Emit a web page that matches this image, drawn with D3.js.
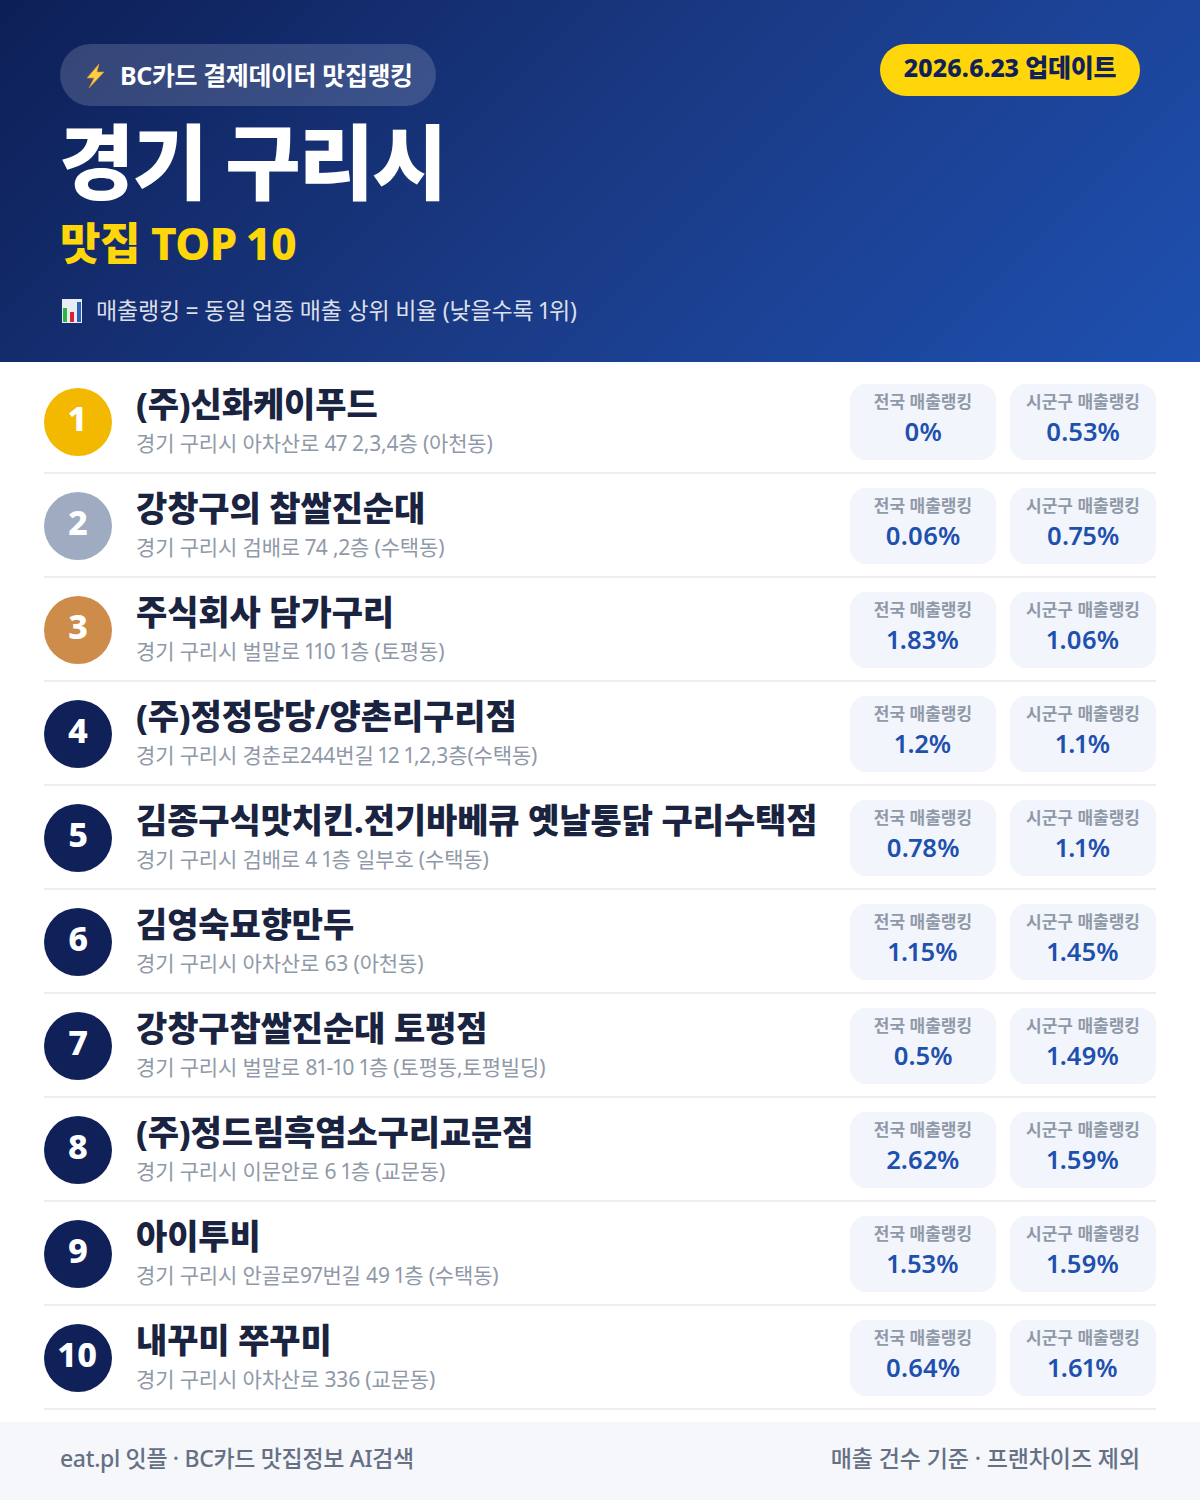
<!DOCTYPE html>
<html lang="ko">
<head>
<meta charset="utf-8">
<script src="https://cdn.jsdelivr.net/npm/d3@7"></script>
<style>
    html, body { margin: 0; padding: 0; background: #fff; }
    svg { display: block; }
    text { font-family: "Noto Sans", "Noto Sans CJK KR", sans-serif; font-variant-numeric: proportional-nums; }
</style>
</head>
<body>
<svg id="chart" width="1200" height="1500"></svg>
<script>
    const names = ['(주)신화케이푸드', '강창구의 찹쌀진순대', '주식회사 담가구리', '(주)정정당당/양촌리구리점',
        '김종구식맛치킨.전기바베큐 옛날통닭 구리수택점', '김영숙묘향만두', '강창구찹쌀진순대 토평점',
        '(주)정드림흑염소구리교문점', '아이투비', '내꾸미 쭈꾸미'];
    const addresses = ['경기 구리시 아차산로 47 2,3,4층 (아천동)', '경기 구리시 검배로 74 ,2층 (수택동)',
        '경기 구리시 벌말로 110 1층 (토평동)', '경기 구리시 경춘로244번길 12 1,2,3층(수택동)',
        '경기 구리시 검배로 4 1층 일부호 (수택동)', '경기 구리시 아차산로 63 (아천동)',
        '경기 구리시 벌말로 81-10 1층 (토평동,토평빌딩)', '경기 구리시 이문안로 6 1층 (교문동)',
        '경기 구리시 안골로97번길 49 1층 (수택동)', '경기 구리시 아차산로 336 (교문동)'];
    const nationalRank = ['0%', '0.06%', '1.83%', '1.2%', '0.78%', '1.15%', '0.5%', '2.62%', '1.53%', '0.64%'];
    const districtRank = ['0.53%', '0.75%', '1.06%', '1.1%', '1.1%', '1.45%', '1.49%', '1.59%', '1.59%', '1.61%'];
    const ranks = d3.range(1, 11);
    const rankColors = ['#f2b900', '#9eabc0', '#cd8c4a'];
    const otherRank = '#10215a';

    const sv = d3.select('#chart');

    const defs = sv.append('defs');
    const gr_he = defs.append('linearGradient')
        .attr('id', 'headBg')
        .attr('gradientUnits', 'userSpaceOnUse')
        .attr('x1', 209.5).attr('y1', -209.5)
        .attr('x2', 990.5).attr('y2', 571.5);
    gr_he.append('stop').attr('offset', '0%').attr('stop-color', '#0d1f56');
    gr_he.append('stop').attr('offset', '50%').attr('stop-color', '#1a3a85');
    gr_he.append('stop').attr('offset', '100%').attr('stop-color', '#1e50b0');

    // header
    sv.append('rect').attr('width', 1200).attr('height', 362).attr('fill', 'url(#headBg)');

    sv.append('rect')
        .attr('x', 60).attr('y', 44)
        .attr('width', 376).attr('height', 62)
        .attr('rx', 31)
        .attr('fill', '#fff').attr('fill-opacity', 0.16);

    // lightning icon
    sv.append('path')
        .attr('d', 'M99 64 L87 78 L94 78 L89 88 L104 72 L97 72 Z')
        .attr('fill', '#fbcf4a')
        .attr('stroke', '#e08a1e').attr('stroke-width', 0.7);

    sv.append('text').attr('x', 120).attr('y', 85)
        .attr('fill', '#fff').attr('font-size', 25).attr('font-weight', 700)
        .attr('letter-spacing', -0.4)
        .text('BC카드 결제데이터 맛집랭킹');

    sv.append('text').attr('x', 59).attr('y', 193)
        .attr('fill', '#fff').attr('font-size', 82).attr('font-weight', 900)
        .attr('letter-spacing', -2)
        .text('경기 구리시');

    sv.append('text').attr('x', 60).attr('y', 260)
        .attr('fill', '#ffd60a').attr('font-size', 44).attr('font-weight', 800)
        .attr('letter-spacing', -0.5)
        .text('맛집 TOP 10');

    // chart icon
    const ic = sv.append('g').attr('transform', 'translate(62,299)');
    ic.append('rect').attr('width', 20).attr('height', 24).attr('fill', '#e8edf3');
    ic.append('rect').attr('x', 1).attr('y', 9).attr('width', 4).attr('height', 14).attr('fill', '#2fb344');
    ic.append('rect').attr('x', 8).attr('y', 13).attr('width', 4).attr('height', 10).attr('fill', '#d6252c');
    ic.append('rect').attr('x', 15).attr('y', 3).attr('width', 4).attr('height', 20).attr('fill', '#2f62b4');

    sv.append('text').attr('x', 96).attr('y', 319)
        .attr('fill', '#fff').attr('fill-opacity', 0.85)
        .attr('font-size', 23).attr('font-weight', 400)
        .attr('letter-spacing', -0.2)
        .text('매출랭킹 = 동일 업종 매출 상위 비율 (낮을수록 1위)');

    // update badge
    sv.append('rect')
        .attr('x', 880).attr('y', 44)
        .attr('width', 260).attr('height', 52)
        .attr('rx', 26)
        .attr('fill', '#ffd60a');
    sv.append('text').attr('x', 1010).attr('y', 77)
        .attr('text-anchor', 'middle')
        .attr('fill', '#10215a').attr('font-size', 25).attr('font-weight', 800)
        .attr('letter-spacing', -0.2)
        .text('2026.6.23 업데이트');

    // rows
    const y_sc = d3.scaleBand().domain(ranks).range([370, 1410]);

    const ro = sv.selectAll('.row')
        .data(ranks)
        .enter()
        .append('g')
        .attr('class', 'row')
        .attr('transform', d => `translate(0,${y_sc(d)})`);

    ro.append('line')
        .attr('x1', 44).attr('x2', 1156)
        .attr('y1', 103).attr('y2', 103)
        .attr('stroke', '#eceef2').attr('stroke-width', 2);

    ro.append('circle')
        .attr('cx', 78).attr('cy', 52).attr('r', 34)
        .attr('fill', d => rankColors[d - 1] || otherRank);

    ro.append('text')
        .attr('x', 78).attr('y', 61)
        .attr('text-anchor', 'middle')
        .attr('fill', '#fff').attr('font-size', 34).attr('font-weight', 800)
        .text(d => d);

    ro.append('text')
        .attr('x', 136).attr('y', 47)
        .attr('fill', '#1a2340').attr('font-size', 34).attr('font-weight', 800)
        .attr('letter-spacing', -0.12)
        .text(d => names[d - 1]);

    ro.append('text')
        .attr('x', 136).attr('y', 81)
        .attr('fill', '#8f99a8').attr('font-size', 21).attr('font-weight', 400)
        .attr('letter-spacing', -0.15)
        .text(d => addresses[d - 1]);

    const cards = [
        { x: 850, w: 146, label: '전국 매출랭킹', values: nationalRank },
        { x: 1010, w: 146, label: '시군구 매출랭킹', values: districtRank }
    ];

    cards.forEach(c => {
        ro.append('rect')
            .attr('x', c.x).attr('y', 14)
            .attr('width', c.w).attr('height', 76)
            .attr('rx', 16)
            .attr('fill', '#f2f5fc');
        ro.append('text')
            .attr('x', c.x + c.w / 2).attr('y', 37.5)
            .attr('text-anchor', 'middle')
            .attr('fill', '#8f99a8').attr('font-size', 17).attr('font-weight', 700)
            .text(c.label);
        ro.append('text')
            .attr('x', c.x + c.w / 2).attr('y', 71)
            .attr('text-anchor', 'middle')
            .attr('fill', '#1e50ad').attr('font-size', 25.5).attr('font-weight', 600)
            .text(d => c.values[d - 1]);
    });

    // footer
    sv.append('rect').attr('y', 1422).attr('width', 1200).attr('height', 78).attr('fill', '#f5f7fb');
    sv.append('text').attr('x', 60).attr('y', 1467)
        .attr('fill', '#667085').attr('font-size', 23).attr('font-weight', 500)
        .attr('letter-spacing', -0.33)
        .text('eat.pl 잇플 · BC카드 맛집정보 AI검색');
    sv.append('text').attr('x', 1140).attr('y', 1467)
        .attr('text-anchor', 'end')
        .attr('fill', '#667085').attr('font-size', 23).attr('font-weight', 500)
        .attr('letter-spacing', -0.1)
        .text('매출 건수 기준 · 프랜차이즈 제외');
</script>
</body>
</html>
